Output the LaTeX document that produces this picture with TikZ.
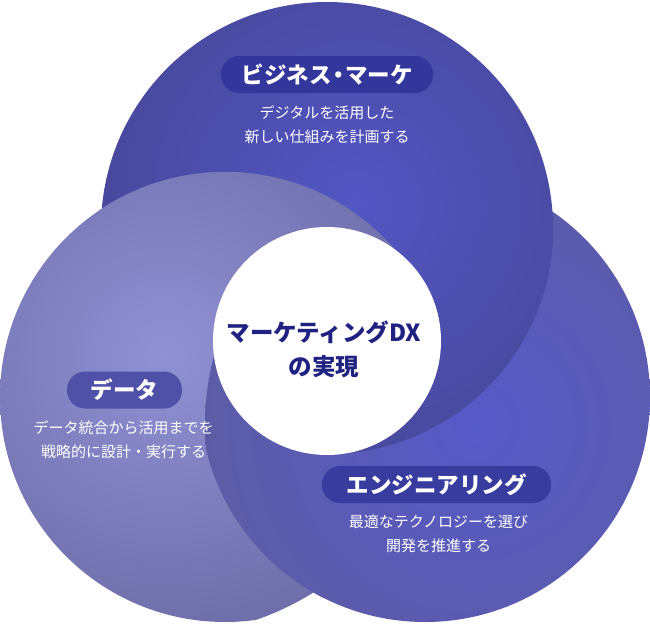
\documentclass[tikz,border=0pt]{standalone}
\usepackage{fontspec}
\setmainfont{Noto Sans CJK JP}
\usepackage{tikz}
\usetikzlibrary{positioning}
\definecolor{topin}{HTML}{5356C4}
\definecolor{topout}{HTML}{47489A}
\definecolor{leftin}{HTML}{9091D4}
\definecolor{leftout}{HTML}{6E6EAA}
\definecolor{rightin}{HTML}{5659C8}
\definecolor{rightout}{HTML}{5C5CA6}
\definecolor{navy}{HTML}{1F2280}
\tikzset{pill/.style={rounded corners=18pt,minimum height=37pt,inner sep=0pt,text=white,font=\fontsize{22.5}{24}\selectfont\bfseries},
	desc/.style={align=center,text=white,inner sep=0pt,font=\fontsize{15}{24}\selectfont}}
\newcommand{\topdisc}{\shade[inner color=topin,outer color=topout] (355,205) circle[radius=270];}
\newcommand{\leftdisc}{\shade[inner color=leftin,outer color=leftout] (165,355) circle[radius=280];}
\newcommand{\rightdisc}{\shade[inner color=rightin,outer color=rightout] (475,425) circle[radius=270];}
\newcommand{\nakaten}{\kern-.2em・\kern-.2em}

\begin{document}
\begin{tikzpicture}[x=1pt,y=-1pt]
		\useasboundingbox (0,0) rectangle (650,624);
		\coordinate (T) at (327,228);
		\coordinate (L) at (225,397);
		\coordinate (R) at (425,397);
		\coordinate (C) at (327,341);
		% right, then top, then left
		\begin{scope}
			\clip (R) circle[radius=225];
			\rightdisc
		\end{scope}
		\begin{scope}
			\clip (T) circle[radius=226];
			\topdisc
		\end{scope}
		\begin{scope}
			\clip (L) circle[radius=225];
			\leftdisc
		\end{scope}
		% right over left
		\begin{scope}
			\clip (L) circle[radius=225];
			\clip (R) circle[radius=225];
			\rightdisc
		\end{scope}
		% top wins below right of the centre
		\begin{scope}
			\clip (C) -- (1347,-219) -- (1347,1341) -- (327,1341) -- cycle;
			\clip (T) circle[radius=226];
			\topdisc
		\end{scope}
		% left wins above the centre
		\begin{scope}
			\clip (C) -- (-653,-219) -- (-653,-1000) -- (1347,-1000) -- (1347,-219) -- cycle;
			\clip (L) circle[radius=225];
			\leftdisc
		\end{scope}
		\fill[white] (C) circle[radius=114];
		\node[align=center,text=navy,font=\fontsize{23.5}{34}\selectfont\bfseries] (goal) at (324,349) {マーケティングDX\\の実現};
		\node[pill,fill={rgb,255:red,51;green,54;blue,154},minimum width=212pt] (biz) at (327,74.5) {ビジネス\nakaten マーケ};
		\node[desc] (bizdesc) at (327,125) {デジタルを活用した\\新しい仕組みを計画する};
		\node[pill,fill={rgb,255:red,79;green,81;blue,168},minimum width=115pt] (data) at (124.5,390) {データ};
		\node[desc] (datadesc) at (123.5,440) {データ統合から活用までを\\戦略的に設計・実行する};
		\node[pill,fill={rgb,255:red,56;green,60;blue,158},minimum width=229pt] (eng) at (436.5,484.5) {エンジニアリング};
		\node[desc] (engdesc) at (438.5,534) {最適なテクノロジーを選び\\開発を推進する};
	\end{tikzpicture}
\end{document}
